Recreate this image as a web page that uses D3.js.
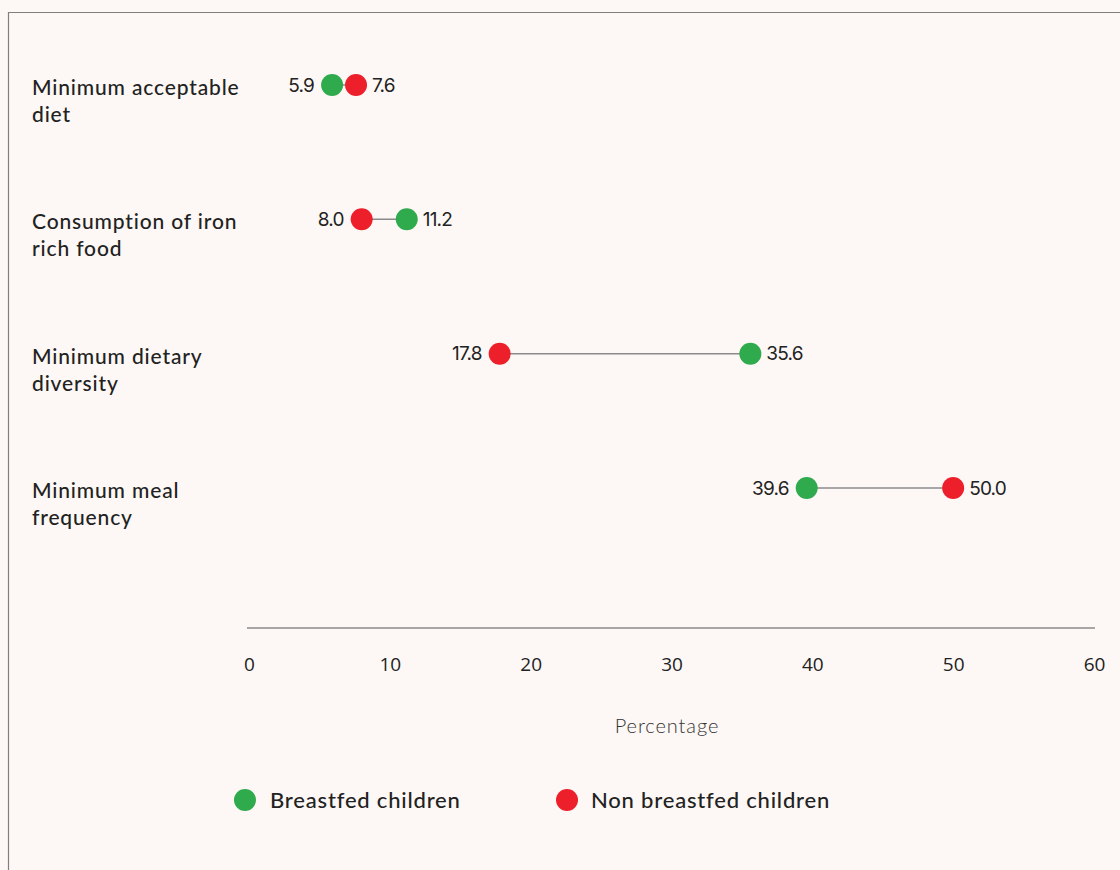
<!DOCTYPE html>
<html><head><meta charset="utf-8">
<script src="https://cdn.jsdelivr.net/npm/d3@7"></script>
<style>
html,body{margin:0;padding:0;background:#fdf8f5;}
svg{display:block;}
</style></head>
<body>
<svg id="chart" width="1120" height="870"></svg>
<script>
const categories = [["Minimum acceptable","diet"],["Consumption of iron","rich food"],["Minimum dietary","diversity"],["Minimum meal","frequency"]];
const breastfed = [5.9, 11.2, 35.6, 39.6];
const nonBreastfed = [7.6, 8.0, 17.8, 50.0];
const ticks = [0,10,20,30,40,50,60];
const seriesNames = ["Breastfed children","Non breastfed children"];
const colors = ["#2faa4c","#ed1f2a"];

const svg = d3.select("#chart");
svg.append("rect").attr("width",1120).attr("height",870).attr("fill","#fdf8f5");
svg.append("path").attr("d","M8.5,870 V12.5 H1120").attr("fill","none").attr("stroke","#808080").attr("stroke-width",1.2);

const x = d3.scaleLinear().domain([0,60]).range([249,1094]);
const y = d3.scalePoint().domain(d3.range(categories.length)).range([85,488]);

// axis
const axis = d3.axisBottom(x).tickValues(ticks).tickSize(0).tickPadding(30).tickFormat(d3.format("d"));
const gx = svg.append("g").attr("transform","translate(0,628)").call(axis);
gx.select(".domain").attr("stroke","#8a8a8a").attr("stroke-width",1.5).attr("d","M247,0H1095");
gx.selectAll("text").attr("font-family","'Open Sans', sans-serif").attr("font-size",19).attr("fill","#222");

svg.append("text").attr("x",667).attr("y",733).attr("text-anchor","middle")
  .attr("font-family","Lato, sans-serif").attr("font-weight",300).attr("font-size",20).attr("letter-spacing",0.9)
  .attr("fill","#333").text("Percentage");

// category labels
categories.forEach((c,i)=>{
  const t = svg.append("text").attr("x",32).attr("y",y(i)+10)
    .attr("font-family","Lato, sans-serif").attr("font-weight",500).attr("font-size",21)
    .attr("letter-spacing",0.85).attr("fill","#222");
  c.forEach((line,j)=>t.append("tspan").attr("x",32).attr("dy", j===0?0:27).text(line));
});

const fmt = d3.format(".1f");
const r = 11;
categories.forEach((c,i)=>{
  const a = breastfed[i], b = nonBreastfed[i];
  const cy = y(i);
  svg.append("line").attr("x1",x(a)).attr("x2",x(b)).attr("y1",cy).attr("y2",cy)
    .attr("stroke","#8a8a8a").attr("stroke-width",1.5);
  const vals = [a,b];
  const lo = Math.min(a,b);
  vals.forEach((v,k)=>{
    svg.append("circle").attr("cx",x(v)).attr("cy",cy).attr("r",r).attr("fill",colors[k]);
    const left = v===lo;
    svg.append("text").attr("x", left ? x(v)-r-7 : x(v)+r+5).attr("y",cy+6.5)
      .attr("text-anchor", left?"end":"start")
      .attr("font-family","Inter, sans-serif").attr("font-size",19).attr("letter-spacing",-0.8).attr("fill","#222")
      .text(fmt(v));
  });
});

// legend
const leg = [{cx:245,tx:270},{cx:567,tx:591}];
seriesNames.forEach((s,k)=>{
  svg.append("circle").attr("cx",leg[k].cx).attr("cy",800).attr("r",11).attr("fill",colors[k]);
  svg.append("text").attr("x",leg[k].tx).attr("y",808).attr("font-family","Lato, sans-serif")
    .attr("font-weight",500).attr("font-size",22).attr("letter-spacing",0.8).attr("fill","#222").text(s);
});
</script>
</body></html>
